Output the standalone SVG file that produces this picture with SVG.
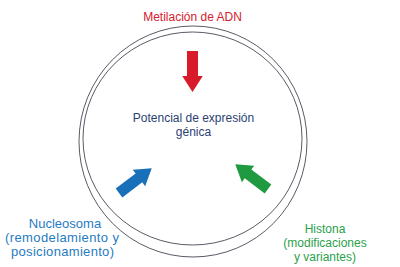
<svg xmlns="http://www.w3.org/2000/svg" width="400" height="267" viewBox="0 0 400 267">
<defs>
<style>
.ring{fill:none;stroke:#2c313c;stroke-width:0.8}
.t{font-family:"Liberation Sans",Arial,sans-serif;font-size:12px;text-anchor:middle}
.n{font-size:13px}
</style>
<path id="arr" d="M0,-5.5 L25,-5.5 L25,-10.25 L41,0 L25,10.25 L25,5.5 L0,5.5 Z"/>
</defs>
<rect width="400" height="267" fill="#ffffff"/>
<g id="rings">
<ellipse class="ring" cx="193" cy="141.5" rx="114" ry="115.5"/>
<ellipse class="ring" cx="192.5" cy="138.5" rx="109.5" ry="106.5"/>
</g>
<g id="connectors">
<use href="#arr" fill="#d91a2a" transform="translate(192.5,51) rotate(90)"/>
<use href="#arr" fill="#1a70b8" transform="translate(119,193) rotate(-37)"/>
<use href="#arr" fill="#1f9a40" transform="translate(268,189) rotate(-143)"/>
</g>
<g id="metilacion">
<text class="t" x="192.5" y="21" fill="#d5202e">Metilación de ADN</text>
</g>
<g id="potencial">
<text class="t" x="193.5" y="121.5" fill="#2b3f73">Potencial de expresión</text>
<text class="t" x="193.5" y="136" fill="#2b3f73">génica</text>
</g>
<g id="nucleosoma">
<text class="t n" x="65" y="227.5" fill="#1f7bc2">Nucleosoma</text>
<text class="t n" x="62" y="241.5" fill="#1f7bc2" textLength="114" lengthAdjust="spacing">(remodelamiento y</text>
<text class="t n" x="62.5" y="255.5" fill="#1f7bc2" textLength="103" lengthAdjust="spacing">posicionamiento)</text>
</g>
<g id="histona">
<text class="t" x="325" y="233" fill="#2aa14b">Histona</text>
<text class="t" x="325" y="247" fill="#2aa14b">(modificaciones</text>
<text class="t" x="325" y="261" fill="#2aa14b">y variantes)</text>
</g>
</svg>
